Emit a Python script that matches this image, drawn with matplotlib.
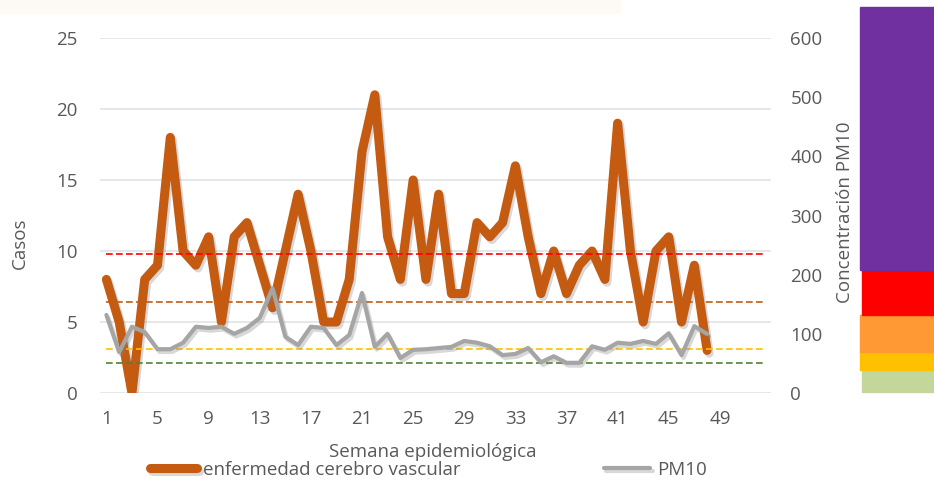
import matplotlib
matplotlib.use("Agg")
import matplotlib.pyplot as plt
import matplotlib.patheffects as pe
from matplotlib.patches import Rectangle
import numpy as np

plt.rcParams['font.family'] = ['Open Sans', 'DejaVu Sans']

# weekly data
semanas = list(range(1, 49))
casos = [8, 5, 0, 8, 9, 18, 10, 9, 11, 5, 11, 12, 9, 6, 10, 14, 10, 5, 5, 8,
         17, 21, 11, 8, 15, 8, 14, 7, 7, 12, 11, 12, 16, 11, 7, 10, 7, 9, 10, 8,
         19, 10, 5, 10, 11, 5, 9, 3]
pm10 = [132, 69, 112, 103, 74, 74, 85, 112, 110, 112, 100, 110, 127, 177, 95, 81,
        112, 110, 81, 98, 169, 78, 100, 59, 73, 74, 76, 78, 88, 85, 79, 64,
        66, 76, 52, 62, 51, 51, 79, 73, 85, 83, 88, 83, 101, 64, 113, 100]
xticks = list(range(1, 50, 4))

# reference levels (PM10 scale) and their colours
niveles = [235, 154, 75, 50]
niveles_col = ['#FF0000', '#C55A11', '#FFC000', '#548235']

# colour scale on the right side: (bottom px, top px, left px, colour)
escala = [(392, 370, 862, '#C4D79B'), (370, 352, 860, '#FFC000'),
          (352, 315, 860, '#FF9933'), (315, 270, 862, '#FF0000'),
          (270, 7, 860, '#7030A0')]

W, H = 934, 491
fig = plt.figure(figsize=(W / 100, H / 100), dpi=100)

# faint banner remnant at the very top
fig.patches.append(Rectangle((0, 1 - 13 / H), 620 / W, 13 / H, transform=fig.transFigure,
                             color='#FDFAF6', zorder=0))

for y0, y1, x0, c in escala:
    fig.patches.append(Rectangle((x0 / W, 1 - y0 / H), (W - x0) / W, (y0 - y1) / H,
                                 transform=fig.transFigure, color=c, zorder=0))

ax = fig.add_axes([100 / W, 1 - 393 / H, 671 / W, 355 / H])
ax2 = ax.twinx()

gris = '#595959'
fs = 13.5
ax.set_xlim(0.5, 53.0)
ax.set_ylim(0, 25)
ax2.set_ylim(0, 600)
ax.set_yticks([0, 5, 10, 15, 20, 25])
ax2.set_yticks([0, 100, 200, 300, 400, 500, 600])
ax.set_xticks(xticks)
ax.grid(axis='y', color='#E3E3E3', linewidth=1.2)
ax.set_axisbelow(True)
for a in (ax, ax2):
    for s in a.spines.values():
        s.set_visible(False)
ax.tick_params(axis='both', length=0, labelsize=fs, colors=gris)
ax.tick_params(axis='y', pad=16)
ax.tick_params(axis='x', pad=12)
ax2.tick_params(axis='y', length=0, labelsize=fs, colors=gris, pad=14)

for v, c in zip(niveles, niveles_col):
    ax2.plot([1, 52.5], [v, v], color=c, linewidth=1.2, linestyle=(0, (4, 2)), zorder=2)

sombra = [pe.SimpleLineShadow(offset=(1.5, -2), shadow_color='#808080', alpha=0.3), pe.Normal()]
l1, = ax.plot(semanas, casos, color='#C55A11', linewidth=6.5, solid_joinstyle='round',
              solid_capstyle='round', path_effects=sombra, zorder=3)
l2, = ax2.plot(semanas, pm10, color='#A5A5A5', linewidth=3, solid_joinstyle='round',
               solid_capstyle='round', path_effects=sombra, zorder=4)

fig.text(20 / W, 1 - 243 / H, 'Casos', rotation=90, ha='center', va='center',
         fontsize=fs, color=gris)
fig.text(845 / W, 1 - 212 / H, 'Concentración PM10', rotation=90, ha='center', va='center',
         fontsize=fs, color=gris)
fig.text(433 / W, 1 - 452 / H, 'Semana epidemiológica', ha='center', va='center',
         fontsize=fs, color=gris)

fig.legend([l1, l2], ['enfermedad cerebro vascular', 'PM10'], loc='center left',
           bbox_to_anchor=(150 / W, 1 - 470 / H), ncol=2, frameon=False, fontsize=fs,
           labelcolor=gris, handlelength=2.5, handletextpad=0.35, columnspacing=7.6,
           borderpad=0, borderaxespad=0)

fig.savefig('out.png', dpi=100)
